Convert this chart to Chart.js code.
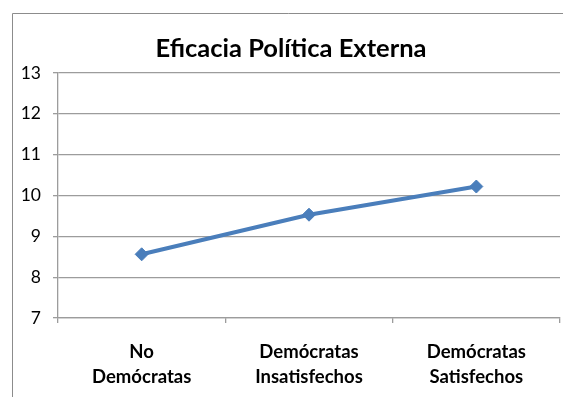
<!DOCTYPE html>
<html>
<head>
<meta charset="utf-8">
<script src="https://cdn.jsdelivr.net/npm/chart.js@4"></script>
<style>
  html, body { margin: 0; padding: 0; background: #fff; }
  #wrap { position: relative; width: 563px; height: 397px; }
  canvas { display: block; }
</style>
</head>
<body>
<div id="wrap"><canvas id="chart" width="563" height="397"></canvas></div>
<script>
// Chart content
const chartTitle = 'Eficacia Política Externa';
const categories = [
  ['No', 'Demócratas'],
  ['Demócratas', 'Insatisfechos'],
  ['Demócratas', 'Satisfechos']
];
const seriesValues = [8.56, 9.53, 10.22];
const yTicks = [7, 8, 9, 10, 11, 12, 13];

const FONT = 'Lato, "Open Sans", sans-serif';
const lineBlue = '#4a7ebb';
const gridGray = '#9c9c9c';

// White page with the thin frame around the chart
const framePlugin = {
  id: 'frame',
  beforeDraw(chart) {
    const ctx = chart.ctx;
    ctx.save();
    ctx.fillStyle = '#ffffff';
    ctx.fillRect(0, 0, chart.width, chart.height);
    ctx.strokeStyle = '#8c8c8c';
    ctx.lineWidth = 1;
    ctx.beginPath();
    ctx.moveTo(12.5, chart.height + 2);
    ctx.lineTo(12.5, 13.5);
    ctx.lineTo(chart.width + 2, 13.5);
    ctx.stroke();
    ctx.restore();
  }
};

new Chart(document.getElementById('chart'), {
  type: 'line',
  data: {
    labels: categories,
    datasets: [{
      data: seriesValues,
      borderColor: lineBlue,
      backgroundColor: lineBlue,
      borderWidth: 4,
      pointStyle: 'rectRot',
      pointRadius: 6.5,
      pointHoverRadius: 6.5,
      pointBackgroundColor: lineBlue,
      pointBorderColor: lineBlue,
      pointBorderWidth: 1,
      tension: 0,
      fill: false
    }]
  },
  options: {
    responsive: false,
    animation: false,
    events: [],
    layout: { autoPadding: false, padding: { left: 22, right: 3, top: 0, bottom: 0 } },
    plugins: {
      legend: { display: false },
      tooltip: { enabled: false },
      title: {
        display: true,
        text: chartTitle,
        color: '#000',
        font: { family: FONT, size: 25.5, weight: 'bold', lineHeight: 1.2 },
        padding: { top: 33.6, bottom: 8.8 }
      }
    },
    scales: {
      x: {
        offset: true,
        grid: {
          offset: true,
          drawOnChartArea: false,
          drawTicks: true,
          tickLength: 5,
          color: gridGray,
          lineWidth: 1.3
        },
        border: { display: true, color: gridGray, width: 1.3 },
        ticks: {
          color: '#000',
          padding: 16.5,
          maxRotation: 0,
          autoSkip: false,
          font: { family: FONT, size: 18.5, weight: 'bold', lineHeight: 1.36 }
        },
        afterFit(scale) {
          scale.height = 79;
          scale.paddingLeft = 0;
          scale.paddingRight = 0;
        }
      },
      y: {
        min: yTicks[0],
        max: yTicks[yTicks.length - 1],
        afterBuildTicks(scale) { scale.ticks = yTicks.map(v => ({ value: v })); },
        grid: {
          color: gridGray,
          lineWidth: 1.3,
          drawTicks: true,
          tickLength: 5
        },
        border: { display: true, color: gridGray, width: 1.3 },
        ticks: {
          color: '#000',
          padding: 12,
          font: { family: FONT, size: 17.5 }
        },
        afterFit(scale) { scale.width = 36; }
      }
    }
  },
  plugins: [framePlugin]
});
</script>
</body>
</html>
